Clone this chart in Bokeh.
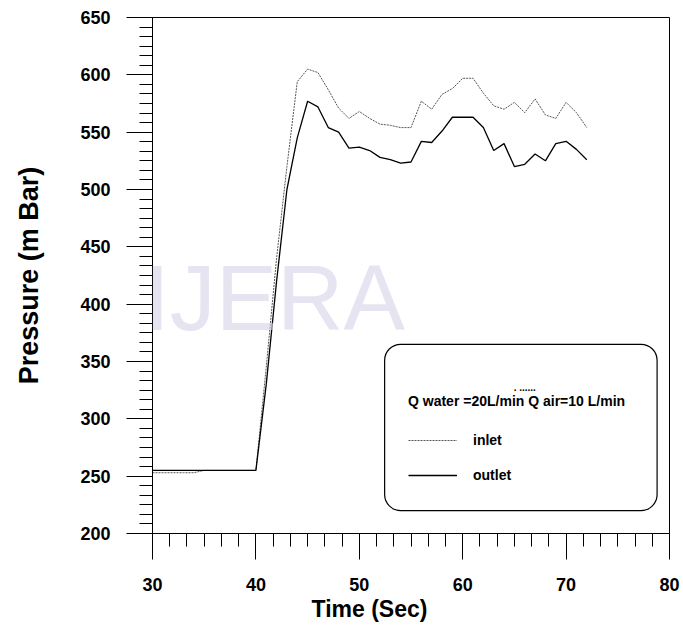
from bokeh.plotting import figure
from bokeh.models import (Range1d, FixedTicker, Legend, LegendItem,
                          BoxAnnotation, Label, Title)
from bokeh.embed import file_html
from bokeh.resources import INLINE

# ---------------- data ----------------
time_sec = [30, 31, 32, 33, 34, 35, 36, 37, 38, 39, 40,
            41, 42, 43, 44, 45, 46, 47, 48, 49, 50,
            51, 52, 53, 54, 55, 56, 57, 58, 59, 60,
            61, 62, 63, 64, 65, 66, 67, 68, 69, 70, 71, 72]
inlet = [253, 253, 253, 253, 253, 255, 255, 255, 255, 255, 255,
         345, 440, 520, 594, 605, 602, 587, 571, 562, 568,
         562, 557, 556, 554, 554, 577, 570, 583, 588, 597,
         597, 584, 573, 570, 576, 567, 579, 565, 562, 576, 567, 554]
outlet = [255, 255, 255, 255, 255, 255, 255, 255, 255, 255, 255,
          330, 420, 500, 545, 577, 572, 554, 550, 536, 537,
          534, 528, 526, 523, 524, 542, 541, 551, 563, 563,
          563, 554, 534, 540, 520, 522, 531, 525, 540, 542, 535, 526]
x_ticks = [30, 40, 50, 60, 70, 80]
y_ticks = [200, 250, 300, 350, 400, 450, 500, 550, 600, 650]
legend_title = "Q water =20L/min Q air=10 L/min"
series_names = ["inlet", "outlet"]

FONT = "Liberation Sans"

p = figure(width=683, height=634, output_backend="svg", toolbar_location=None,
           x_range=Range1d(30, 80), y_range=Range1d(200, 650),
           min_border_left=152, min_border_right=14,
           min_border_top=17, min_border_bottom=101)
p.background_fill_color = None
p.border_fill_color = "white"
p.outline_line_color = "black"
p.outline_line_width = 1
p.xgrid.visible = False
p.ygrid.visible = False

# watermark
p.add_layout(Label(x=41.8, y=405, text="IJERA", text_font=FONT,
                   text_font_size="92px", text_color="#d6d2e6", text_alpha=0.6,
                   text_align="center", text_baseline="middle"))

r_in = p.line(time_sec, inlet, line_color="#555555", line_width=1,
              line_dash="2 1")
r_out = p.line(time_sec, outlet, line_color="black", line_width=1.3)

for ax, ticks in ((p.xaxis[0], x_ticks), (p.yaxis[0], y_ticks)):
    ax.ticker = FixedTicker(ticks=ticks,
                            minor_ticks=[t0 + (t1 - t0) * k / 6
                                         for t0, t1 in zip(ticks[:-1], ticks[1:])
                                         for k in range(1, 6)])
    ax.major_tick_out = 26
    ax.major_tick_in = 0
    ax.minor_tick_out = 13
    ax.minor_tick_in = 0
    ax.axis_line_color = "black"
    ax.major_tick_line_color = "black"
    ax.minor_tick_line_color = "black"
    ax.major_label_text_font = FONT
    ax.major_label_text_font_style = "bold"
    ax.major_label_text_font_size = "18px"
    ax.major_label_text_color = "black"

p.xaxis.major_label_standoff = 18
p.yaxis.major_label_standoff = 16
p.yaxis.axis_label = "Pressure (m Bar)"
p.yaxis.axis_label_text_font = FONT
p.yaxis.axis_label_text_font_style = "bold"
p.yaxis.axis_label_text_font_size = "27px"
p.yaxis.axis_label_text_color = "black"
p.yaxis.axis_label_standoff = 33

# x axis title (sits under the 50 s tick as in the reference)
p.add_layout(Title(text="Time (Sec)", align="left", offset=159, standoff=0,
                   text_font=FONT, text_font_style="bold",
                   text_font_size="23px", text_color="black"), "below")

# legend frame
p.add_layout(BoxAnnotation(left=52.45, right=78.8, bottom=220, top=365,
                           fill_alpha=0, line_color="black", line_alpha=1,
                           line_width=1.2, border_radius=16))
p.add_layout(Label(x=66.0, y=327, text=". ......", text_font=FONT,
                   text_font_style="bold", text_font_size="10px",
                   text_color="black", text_align="center",
                   text_baseline="middle"))

legend = Legend(items=[LegendItem(label=series_names[0], renderers=[r_in]),
                       LegendItem(label=series_names[1], renderers=[r_out])],
                title=legend_title, location=(256, 48),
                glyph_width=49, glyph_height=20, label_standoff=16,
                spacing=15, padding=0, margin=0, title_standoff=21,
                border_line_alpha=0, background_fill_alpha=0,
                title_text_font=FONT, title_text_font_style="bold",
                title_text_font_size="14px", title_text_color="black",
                label_text_font=FONT, label_text_font_style="bold",
                label_text_font_size="14px", label_text_color="black")
p.add_layout(legend)

open("out.html", "w").write(file_html(p, INLINE))
